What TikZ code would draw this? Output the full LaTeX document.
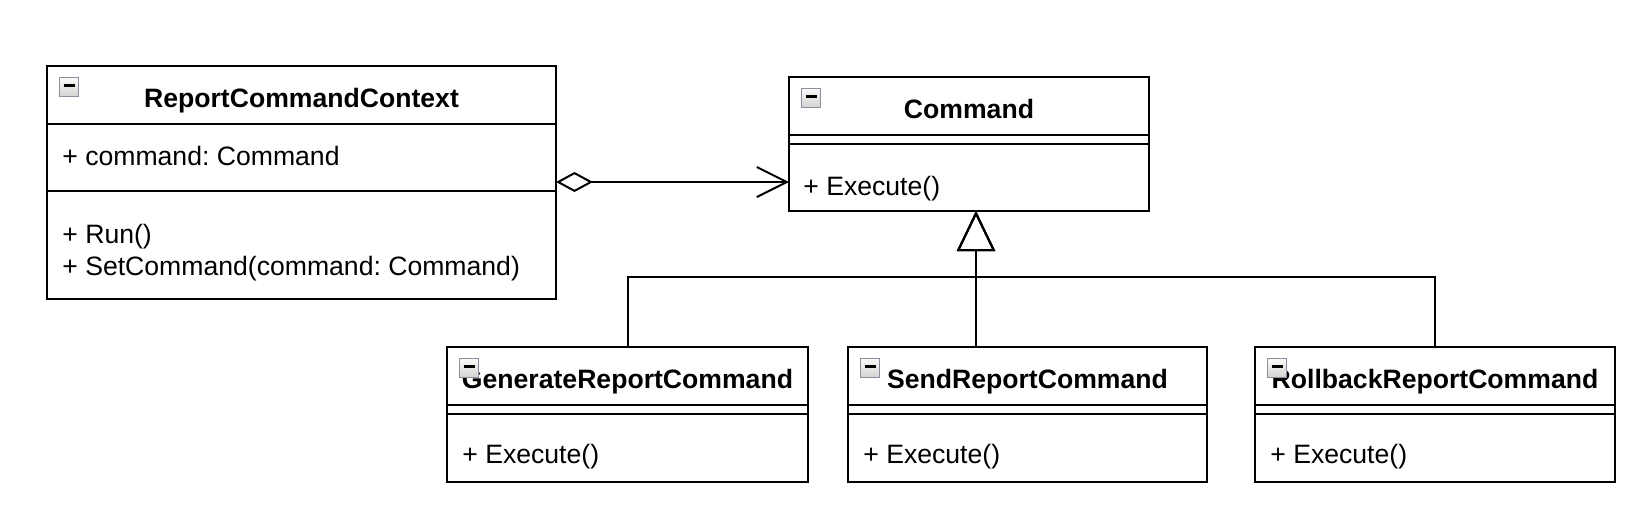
\documentclass[tikz,border=0pt]{standalone}
\usepackage{fontspec}
\setmainfont{Liberation Sans}
\usetikzlibrary{arrows.meta}
\definecolor{iconedge}{RGB}{138,143,158}
\frenchspacing
\tikzset{
  classtitle/.style={draw,line width=1pt,anchor=north west,outer sep=0pt,minimum height=29pt,
    inner ysep=0pt,text height=20.5pt,text depth=8.5pt,
    font=\fontsize{13.3pt}{16pt}\selectfont\bfseries},
  classpart/.style={draw,line width=1pt,anchor=north west,outer sep=0pt,inner sep=0pt},
  member/.style={anchor=base west,inner sep=0pt,font=\fontsize{13.3pt}{16pt}\selectfont},
  foldicon/.style={draw=iconedge,line width=0.6pt,top color=gray!4,bottom color=gray!35,
    anchor=north west,minimum size=9.5pt,inner sep=0pt,
    path picture={\draw[black,line width=1.1pt]
      ([xshift=2pt,yshift=-3.9pt]path picture bounding box.north west) --
      ([xshift=-2pt,yshift=-3.9pt]path picture bounding box.north east);}},
  aggregates/.style={line width=1pt,
    {Diamond[open,length=18.5pt,width=10pt]}-{Straight Barb[length=15pt,width=15pt]}},
  implements/.style={line width=1pt,-{Triangle[open,length=20pt,width=19pt]}},
}
\begin{document}
\begin{tikzpicture}[x=0.5pt,y=-0.5pt]
\useasboundingbox (0,0) rectangle (1634,505);
%%
\node (ctx_title) at (47,66) [classtitle,minimum width=254.5pt] {ReportCommandContext};
  \node (ctx_attr) at (ctx_title.south west) [classpart,minimum width=254.5pt,minimum height=33.5pt] {};
  \node (ctx_meth) at (ctx_attr.south west) [classpart,minimum width=254.5pt,minimum height=54pt] {};
  \node (ctx_m1) at (62,165) [member] {+ command: Command};
  \node (ctx_m2) at (62,243) [member] {+ Run()};
  \node (ctx_m3) at (62,275) [member] {+ SetCommand(command: Command)};
%
\node (cmd_title) at (789,77) [classtitle,minimum width=180pt] {Command};
  \node (cmd_attr) at (cmd_title.south west) [classpart,minimum width=180pt,minimum height=4.5pt] {};
  \node (cmd_meth) at (cmd_attr.south west) [classpart,minimum width=180pt,minimum height=33.5pt] {};
  \node (cmd_m1) at (803,195) [member] {+ Execute()};
%
\node (gen_title) at (447,347) [classtitle,minimum width=180.5pt] {GenerateReportCommand};
  \node (gen_attr) at (gen_title.south west) [classpart,minimum width=180.5pt,minimum height=4.5pt] {};
  \node (gen_meth) at (gen_attr.south west) [classpart,minimum width=180.5pt,minimum height=34pt] {};
  \node (gen_m1) at (462,463) [member] {+ Execute()};
%
\node (send_title) at (848,347) [classtitle,minimum width=179.5pt] {SendReportCommand};
  \node (send_attr) at (send_title.south west) [classpart,minimum width=179.5pt,minimum height=4.5pt] {};
  \node (send_meth) at (send_attr.south west) [classpart,minimum width=179.5pt,minimum height=34pt] {};
  \node (send_m1) at (863,463) [member] {+ Execute()};
%
\node (roll_title) at (1255,347) [classtitle,minimum width=180pt] {RollbackReportCommand};
  \node (roll_attr) at (roll_title.south west) [classpart,minimum width=180pt,minimum height=4.5pt] {};
  \node (roll_meth) at (roll_attr.south west) [classpart,minimum width=180pt,minimum height=34pt] {};
  \node (roll_m1) at (1270,463) [member] {+ Execute()};
%
\node (ctx_fold) at (59,77) [foldicon] {};
  \node (cmd_fold) at (801,88) [foldicon] {};
  \node (gen_fold) at (459,358) [foldicon] {};
  \node (send_fold) at (860,358) [foldicon] {};
  \node (roll_fold) at (1267,358) [foldicon] {};
%
\coordinate (cmd_in) at ([xshift=3.5pt]cmd_meth.south);
  \coordinate (bus) at ([yshift=-33pt]cmd_in);
  \draw [aggregates] ([yshift=-12.25pt]ctx_attr.east) -- ([yshift=-12.25pt]ctx_attr.east -| cmd_title.west);
  \draw [implements] (send_title.north -| cmd_in) -- (cmd_in);
  \draw [implements] (gen_title.north) |- (bus) -- (cmd_in);
  \draw [implements] (roll_title.north) |- (bus) -- (cmd_in);
%
\end{tikzpicture}
\end{document}
